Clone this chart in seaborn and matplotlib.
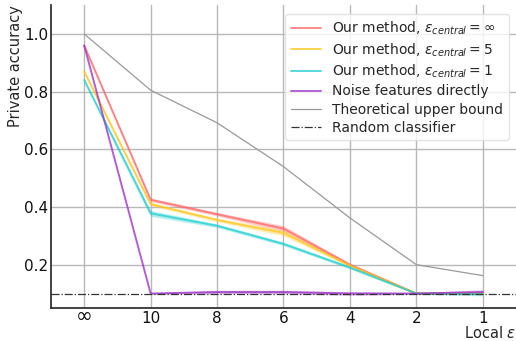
import numpy as np
import pandas as pd
import matplotlib
matplotlib.use("Agg")
import matplotlib.pyplot as plt
import matplotlib.transforms as mtransforms
import seaborn as sns

x_labels = ["∞", "10", "8", "6", "4", "2", "1"]
ours_inf = [0.96, 0.425, 0.375, 0.325, 0.200, 0.100, 0.100]
ours_inf_sd = [0.004, 0.006, 0.006, 0.010, 0.005, 0.003, 0.004]
ours_5 = [0.87, 0.410, 0.355, 0.310, 0.197, 0.100, 0.100]
ours_5_sd = [0.004, 0.006, 0.006, 0.010, 0.005, 0.003, 0.004]
ours_1 = [0.84, 0.378, 0.335, 0.272, 0.190, 0.100, 0.098]
ours_1_sd = [0.004, 0.010, 0.006, 0.006, 0.005, 0.003, 0.006]
noise_direct = [0.96, 0.100, 0.105, 0.105, 0.100, 0.100, 0.105]
noise_direct_sd = [0.003, 0.002, 0.006, 0.006, 0.006, 0.003, 0.008]
upper_bound = [1.0, 0.805, 0.692, 0.54, 0.362, 0.200, 0.162]
random_clf = 0.1

sns.set_theme(style="whitegrid")
plt.rcParams['font.family'] = ['DejaVu Sans']

fig = plt.figure(figsize=(5.16, 3.41), dpi=100)
ax = fig.add_axes([0.0988, 0.097, 0.9012, 0.888])

xs = np.arange(len(x_labels))
series = [
    ("Our method, $\\epsilon_{central} = \\infty$", ours_inf, ours_inf_sd, "#ff6666"),
    ("Our method, $\\epsilon_{central} = 5$", ours_5, ours_5_sd, "#ffc61a"),
    ("Our method, $\\epsilon_{central} = 1$", ours_1, ours_1_sd, "#1fcfcf"),
    ("Noise features directly", noise_direct, noise_direct_sd, "#9b30c8"),
]
for label, vals, sd, col in series:
    df = pd.DataFrame({"x": xs, "y": vals})
    sns.lineplot(data=df, x="x", y="y", ax=ax, color=col, lw=1.4, alpha=0.75, label=label)
    v = np.array(vals); s = np.array(sd)
    ax.fill_between(xs, v - s, v + s, color=col, alpha=0.35, lw=0)

sns.lineplot(x=xs, y=upper_bound, ax=ax, color="#999999", lw=0.9, label="Theoretical upper bound")
ax.axhline(random_clf, color="#333333", lw=0.9, ls="-.", label="Random classifier")

ax.set_xlim(-0.5, 6.5)
ax.set_ylim(0.05, 1.1)
ax.set_xticks(xs)
ax.set_xticklabels(x_labels)
ax.tick_params(axis="x", length=0, pad=2, colors="#111111", labelsize=11)
ax.tick_params(axis="y", length=0, pad=2, colors="#111111", labelsize=11)
for t in ax.get_xticklabels():
    if t.get_text() == "∞":
        t.set_fontsize(14.5)
        t.set_transform(t.get_transform() +
                        mtransforms.ScaledTranslation(0, 2.5 / 72, fig.dpi_scale_trans))
ax.set_yticks([0.2, 0.4, 0.6, 0.8, 1.0])
ax.set_yticklabels(["0.2", "0.4", "0.6", "0.8", "1.0"])
ax.set_ylabel("Private accuracy", fontsize=10.5, loc="top", labelpad=1)
ax.set_xlabel("Local $\\epsilon$", fontsize=10.5, loc="right", labelpad=-1)
ax.grid(True, color="#b8b8b8", lw=1.0)
for s in ["top", "right"]:
    ax.spines[s].set_visible(False)
for s in ["left", "bottom"]:
    ax.spines[s].set_color("#222222")
    ax.spines[s].set_linewidth(1.2)

leg = ax.legend(loc="upper right", fontsize=10, frameon=True, borderaxespad=0,
                bbox_to_anchor=(1 - 7 / 465, 1 - 9 / 303),
                handlelength=2.2, labelspacing=0.3)
leg.get_frame().set_edgecolor("#dddddd")

fig.savefig("out.png", dpi=100)
